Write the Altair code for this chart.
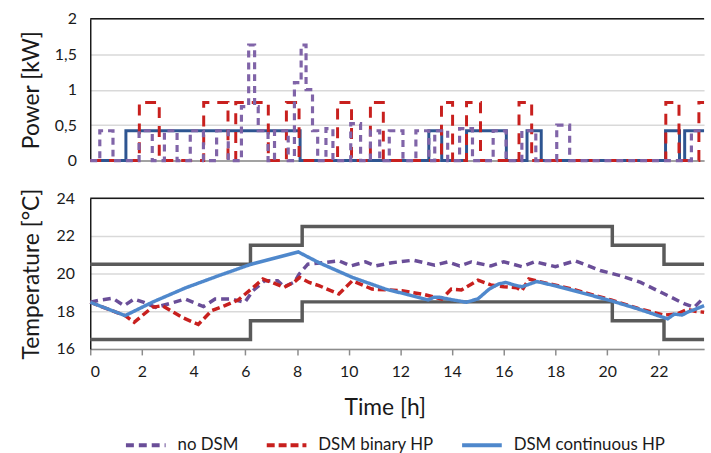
import altair as alt
import pandas as pd

FONT = "Lato"

# ---------------- Power [kW] (step series, breakpoints in hours) ----------------
t_cont = [0, 1.38, 8.12, 13.1, 13.6, 14.56, 16.1, 16.9, 17.45, 22.26, 22.8, 23.0, 23.75]
p_cont = [0, 0.42, 0, 0.42, 0, 0.42, 0, 0.42, 0, 0.42, 0, 0.42, 0.42]

t_bin = [0, 1.90, 2.67, 4.39, 5.33, 5.63, 6.89, 7.59, 8.08, 9.57, 10.11, 10.84, 11.34,
         13.59, 14.02, 14.56, 15.10, 16.59, 17.08, 22.27, 22.78, 23.55, 23.75]
p_bin = [0, 0.82, 0, 0.82, 0, 0.82, 0, 0.82, 0, 0.82, 0, 0.82, 0,
         0.82, 0, 0.82, 0, 0.82, 0, 0.82, 0, 0.82, 0.82]

t_nodsm = [0, 0.37, 0.88, 1.89, 2.4, 2.87, 3.36, 3.87, 4.38, 4.89, 5.34, 5.85, 6.13, 6.36, 6.5,
           6.88, 7.13, 7.66, 7.9, 8.16, 8.35, 8.6, 8.8, 9.12, 9.39, 10.08, 10.46, 10.84, 11.2,
           11.57, 12.1, 12.6, 13.1, 13.33, 13.83, 14.29, 14.79, 15.59, 16.09, 16.7, 17.24,
           18.05, 18.55, 23.26, 23.75]
p_nodsm = [0, 0.42, 0, 0.42, 0, 0.42, 0, 0.42, 0, 0.42, 0, 0.76, 1.63, 0.76, 0.42,
           0, 0.42, 0, 1.1, 1.63, 1.0, 0.42, 0, 0.45, 0, 0.52, 0, 0.42, 0,
           0.42, 0, 0.42, 0, 0.42, 0, 0.45, 0, 0.42, 0, 0.42, 0,
           0.5, 0, 0.42, 0.42]

# ---------------- Temperature [°C] ----------------
t_bound = [0, 6.2, 8.2, 20.2, 22.2, 23.75]
upper_bound = [20.5, 21.5, 22.5, 21.5, 20.5, 20.5]
lower_bound = [16.5, 17.5, 18.5, 17.5, 16.5, 16.5]

t_T_nodsm = [0, 0.4, 0.87, 1.31, 1.7, 2.08, 2.53, 3.23, 3.68, 4.38, 4.83, 5.47, 5.98, 6.3, 6.74,
             7.25, 7.5, 7.9, 8.08, 8.42, 9.0, 9.62, 10.08, 10.65, 11.03, 11.67, 12.5, 13.33,
             13.84, 14.29, 14.74, 15.5, 16.0, 16.7, 17.2, 18.0, 18.77, 19.77, 20.54, 21.3,
             22.22, 23.0, 23.37, 23.75]
T_nodsm = [18.48, 18.6, 18.69, 18.3, 18.65, 18.47, 18.21, 18.47, 18.65, 18.25, 18.65, 18.65,
           18.47, 19.1, 19.62, 19.62, 19.3, 19.55, 19.97, 20.5, 20.58, 20.68, 20.41, 20.62,
           20.41, 20.58, 20.71, 20.45, 20.62, 20.41, 20.62, 20.41, 20.63, 20.37, 20.63, 20.37,
           20.68, 20.15, 19.88, 19.53, 18.92, 18.39, 18.21, 18.74]

t_T_bin = [0, 1.35, 1.7, 2.4, 2.79, 3.55, 4.18, 4.7, 5.21, 5.72, 6.23, 6.68, 7.0, 7.5, 7.89,
           8.1, 8.47, 8.85, 9.62, 10.14, 10.9, 12.06, 12.95, 13.6, 13.97, 14.36, 15.0, 15.5,
           16.0, 16.5, 16.7, 16.97, 17.3, 18.6, 20.15, 21.2, 22.2, 22.7, 23.1, 23.4, 23.75]
T_bin = [18.48, 17.77, 17.42, 18.21, 18.3, 17.68, 17.3, 18.04, 18.3, 18.6, 19.18, 19.71, 19.55,
         19.27, 19.55, 19.8, 19.53, 19.36, 18.92, 19.62, 19.18, 19.09, 18.88, 18.65, 19.18,
         19.13, 19.65, 19.4, 19.3, 19.25, 19.09, 19.71, 19.6, 19.2, 18.6, 18.15, 17.8, 17.86,
         18.1, 18.0, 17.95]

t_T_cont = [0, 1.35, 2.4, 3.68, 4.95, 6.23, 7.3, 8.05, 8.85, 10.14, 11.42, 12.3, 13.07, 13.3,
            13.53, 13.97, 14.55, 15.0, 15.44, 15.8, 16.08, 16.4, 16.7, 17.28, 18.0, 18.62,
            20.15, 21.19, 22.34, 22.6, 22.9, 23.1, 23.4, 23.75]
T_cont = [18.48, 17.77, 18.48, 19.24, 19.88, 20.5, 20.88, 21.15, 20.58, 19.8, 19.18, 18.88,
          18.6, 18.75, 18.74, 18.62, 18.48, 18.66, 19.18, 19.45, 19.53, 19.4, 19.3, 19.58,
          19.35, 19.13, 18.56, 18.13, 17.6, 17.85, 17.8, 17.95, 18.1, 18.3]

series_names = ["no DSM", "DSM binary HP", "DSM continuous HP"]
series_colors = ["#6A4E98", "#C8201E", "#4F88CC"]
series_dash = [[8, 5], [8, 4], [1, 0]]

W = 619
H_TOP = 143
H_BOT = 152

x_scale = alt.Scale(domain=[0, 23.75], nice=False, zero=False)


def df(ts, vs, name):
    return pd.DataFrame({"t": ts, "v": vs, "s": name})


# ---------------- top panel ----------------
x_top = alt.X("t:Q", scale=x_scale,
              axis=alt.Axis(title=None, labels=False, ticks=False, grid=False,
                            domainColor="#8C8C8C", domainWidth=1.5))
y_top = alt.Y("v:Q", scale=alt.Scale(domain=[0, 2], nice=False),
              axis=alt.Axis(title="Power [kW]", values=[0, 0.5, 1, 1.5, 2],
                            labelExpr="replace(toString(datum.value), '.', ',')",
                            labelOverlap=False,
                            ticks=False, domainColor="#1A1A1A", domainWidth=1.5,
                            gridColor="#D9D9D9", gridWidth=1.5,
                            labelFontSize=16, labelPadding=14, labelColor="#1A1A1A",
                            titleFontSize=23, titleFontWeight="normal", titleColor="#1A1A1A",
                            titleX=-59, titleY=H_TOP / 2, titleAngle=270,
                            titleBaseline="middle", titleAlign="center"))

cont_p = alt.Chart(df(t_cont, p_cont, "c")).mark_line(
    interpolate="step-after", color="#2E5591", strokeWidth=3).encode(x=x_top, y=y_top)
bin_p = alt.Chart(df(t_bin, p_bin, "b")).mark_line(
    interpolate="step-after", color="#C8201E", strokeWidth=3,
    strokeDash=[11, 8]).encode(x=x_top, y=y_top)
nodsm_p = alt.Chart(df(t_nodsm, p_nodsm, "n")).mark_line(
    interpolate="step-after", color="#8064A8", strokeWidth=3.2,
    strokeDash=[7, 5]).encode(x=x_top, y=y_top)
top_border = alt.Chart(pd.DataFrame({"v": [2]})).mark_rule(
    color="#1A1A1A", strokeWidth=1.5).encode(y=y_top)

top = alt.layer(cont_p, bin_p, nodsm_p, top_border).properties(width=W, height=H_TOP)

# ---------------- bottom panel ----------------
x_bot = alt.X("t:Q", scale=x_scale,
              axis=alt.Axis(title="Time [h]", values=list(range(0, 24, 2)), grid=False,
                            labelOverlap=False,
                            tickColor="#8C8C8C", tickSize=6, tickWidth=1.5,
                            domainColor="#8C8C8C", domainWidth=1.5,
                            labelFontSize=16, labelPadding=9, labelColor="#1A1A1A",
                            titleFontSize=23, titleFontWeight="normal", titleColor="#1A1A1A",
                            titleX=297, titleY=59, titleBaseline="middle",
                            titleAlign="center"))
y_bot = alt.Y("v:Q", scale=alt.Scale(domain=[16, 24], nice=False, zero=False),
              axis=alt.Axis(title="Temperature [°C]", values=[16, 18, 20, 22, 24],
                            labelOverlap=False,
                            ticks=False, domainColor="#1A1A1A", domainWidth=1.5,
                            gridColor="#D9D9D9", gridWidth=1.5,
                            labelFontSize=16, labelPadding=16, labelColor="#1A1A1A",
                            titleFontSize=23, titleFontWeight="normal", titleColor="#1A1A1A",
                            titleX=-59, titleY=H_BOT / 2, titleAngle=270,
                            titleBaseline="middle", titleAlign="center"))

up_df = df(t_bound, upper_bound, "upper")
lo_df = df(t_bound, lower_bound, "lower")
bounds = alt.layer(
    alt.Chart(up_df).mark_line(interpolate="step-after", color="#5A5A5A", strokeWidth=3.5)
    .encode(x=x_bot, y=y_bot),
    alt.Chart(lo_df).mark_line(interpolate="step-after", color="#5A5A5A", strokeWidth=3.5)
    .encode(x=x_bot, y=y_bot),
)

temp_df = pd.concat([
    df(t_T_nodsm, T_nodsm, series_names[0]).assign(o=0),
    df(t_T_bin, T_bin, series_names[1]).assign(o=1),
    df(t_T_cont, T_cont, series_names[2]).assign(o=2),
])

legend = alt.Legend(title=None, orient="none", direction="horizontal", columns=3,
                    legendX=34, legendY=408,
                    symbolType="stroke", symbolSize=1600, symbolStrokeWidth=4,
                    labelFontSize=17, labelColor="#1A1A1A", labelOffset=10,
                    labelLimit=400, columnPadding=20, labelFont=FONT)

temps = alt.Chart(temp_df).mark_line(strokeWidth=3.5).encode(
    x=x_bot, y=y_bot,
    color=alt.Color("s:N", scale=alt.Scale(domain=series_names, range=series_colors),
                    legend=legend),
    strokeDash=alt.StrokeDash("s:N", scale=alt.Scale(domain=series_names, range=series_dash),
                              legend=legend),
    order=alt.Order("o:Q"),
    detail="s:N",
)
bot_border = alt.Chart(pd.DataFrame({"v": [24]})).mark_rule(
    color="#1A1A1A", strokeWidth=1.5).encode(y=y_bot)

bottom = alt.layer(bounds, temps, bot_border).properties(width=W, height=H_BOT)

chart = alt.vconcat(top, bottom, spacing=19).properties(
    padding={"left": 21, "top": 9, "right": 0, "bottom": 0}
).configure(font=FONT).configure_view(stroke=None).configure_axis(
    labelFont=FONT, titleFont=FONT
)

chart.save("out.html", embed_options={"renderer": "svg", "actions": False})
